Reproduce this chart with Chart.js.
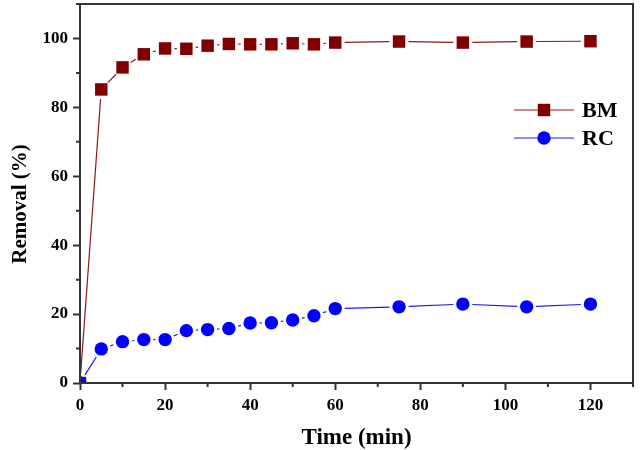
<!DOCTYPE html>
<html>
<head>
<meta charset="utf-8">
<script src="https://cdn.jsdelivr.net/npm/chart.js@4.4.1/dist/chart.umd.min.js"></script>
<style>
html,body{margin:0;padding:0;background:#fff;}
#wrap{width:642px;height:450px;position:relative;}
</style>
</head>
<body>
<div id="wrap"><canvas id="c" width="642" height="450"></canvas></div>
<script>
// ---- data ----
const TIME = [0, 5, 10, 15, 20, 25, 30, 35, 40, 45, 50, 55, 60, 75, 90, 105, 120];
const BM   = [0, 85.2, 91.6, 95.4, 97.1, 97.0, 97.9, 98.4, 98.3, 98.3, 98.6, 98.3, 98.8, 99.1, 98.8, 99.1, 99.2];
const RC   = [0, 9.9, 12.0, 12.6, 12.6, 15.2, 15.5, 15.8, 17.4, 17.5, 18.3, 19.5, 21.6, 22.1, 22.9, 22.1, 22.9];
const SERIES = ['BM', 'RC'];
const X_TICKS = [0, 20, 40, 60, 80, 100, 120];
const Y_TICKS = [0, 20, 40, 60, 80, 100];
const X_MINOR = [10, 30, 50, 70, 90, 110, 130];
const Y_MINOR = [10, 30, 50, 70, 90, 110];
const X_TITLE = 'Time (min)';
const Y_TITLE = 'Removal (%)';

const FONT = "'Liberation Serif', 'Times New Roman', serif";
const AXIS_COLOR = '#333333';
const GAP = 9.5; // line stops short of each symbol (Origin-style gap)

const gapSegment = {
  borderDash: ctx => {
    const L = Math.hypot(ctx.p1.x - ctx.p0.x, ctx.p1.y - ctx.p0.y);
    return L > 2 * GAP ? [L - 2 * GAP, 2 * GAP] : [0, L + 1];
  },
  borderDashOffset: () => -GAP
};

const decor = {
  id: 'decor',
  afterDatasetsDraw(chart) {
    const {ctx, chartArea: a, scales: {x, y}} = chart;
    ctx.save();
    ctx.strokeStyle = AXIS_COLOR;
    ctx.lineWidth = 2;
    ctx.strokeRect(a.left, a.top, a.right - a.left, a.bottom - a.top);
    ctx.beginPath();
    X_MINOR.forEach(v => { const px = x.getPixelForValue(v); ctx.moveTo(px, a.bottom); ctx.lineTo(px, a.bottom + 4); });
    Y_MINOR.forEach(v => { const py = y.getPixelForValue(v); ctx.moveTo(a.left, py); ctx.lineTo(a.left - 4, py); });
    ctx.stroke();

    // legend (line - symbol - line, then label)
    const lx0 = 514, lx1 = 574, mx = 544, tx = 582;
    const rows = [110, 138];
    chart.data.datasets.slice().sort((p, q) => SERIES.indexOf(p.label) - SERIES.indexOf(q.label)).forEach((ds, i) => {
      const yy = rows[i];
      ctx.strokeStyle = ds.borderColor;
      ctx.lineWidth = ds.borderWidth;
      ctx.setLineDash([]);
      ctx.beginPath(); ctx.moveTo(lx0, yy); ctx.lineTo(lx1, yy); ctx.stroke();
      ctx.fillStyle = ds.pointBackgroundColor;
      if (ds.pointStyle === 'rect') {
        const h = ds.pointRadius * Math.SQRT1_2;
        ctx.fillRect(mx - h, yy - h, 2 * h, 2 * h);
      } else {
        ctx.beginPath(); ctx.arc(mx, yy, ds.pointRadius, 0, Math.PI * 2); ctx.fill();
      }
      ctx.fillStyle = '#000';
      ctx.font = "bold 22px " + FONT;
      ctx.textAlign = 'left';
      ctx.textBaseline = 'middle';
      ctx.fillText(ds.label, tx, yy + 1);
    });
    ctx.restore();
  }
};

const zeroPad = s => { s.paddingLeft = 0; s.paddingRight = 0; s.paddingTop = 0; s.paddingBottom = 0; };

new Chart(document.getElementById('c'), {
  type: 'line',
  data: {
    datasets: [
      {
        label: SERIES[0],
        data: TIME.map((t, i) => ({x: t, y: BM[i]})),
        borderColor: '#8b1a1a',
        borderWidth: 1.2,
        pointStyle: 'rect',
        pointRadius: 8.8,
        pointBackgroundColor: '#800000',
        pointBorderWidth: 0,
        tension: 0,
        fill: false,
        clip: 0,
        order: 1,
        segment: gapSegment
      },
      {
        label: SERIES[1],
        data: TIME.map((t, i) => ({x: t, y: RC[i]})),
        borderColor: '#1a1aff',
        borderWidth: 1.2,
        pointStyle: 'circle',
        pointRadius: 6.7,
        pointBackgroundColor: '#0000ff',
        pointBorderWidth: 0,
        tension: 0,
        fill: false,
        clip: 0,
        order: 0,
        segment: gapSegment
      }
    ]
  },
  options: {
    responsive: false,
    devicePixelRatio: 1,
    animation: false,
    events: [],
    layout: {autoPadding: false, padding: {top: 4, right: 9, left: 0, bottom: 0}},
    plugins: {legend: {display: false}, tooltip: {enabled: false}},
    scales: {
      x: {
        type: 'linear', min: 0, max: 130,
        afterBuildTicks: s => { s.ticks = X_TICKS.map(v => ({value: v})); },
        afterFit: s => { s.height = 67; zeroPad(s); },
        border: {display: false},
        grid: {drawOnChartArea: false, drawTicks: true, tickLength: 7, tickWidth: 2, tickColor: AXIS_COLOR},
        ticks: {color: '#000', font: {family: FONT, size: 17, weight: 'bold'}, padding: 5, maxRotation: 0, autoSkip: false},
        title: {display: true, text: X_TITLE, color: '#000', font: {family: FONT, size: 23, weight: 'bold', lineHeight: 1}, padding: {top: 0, bottom: 0}}
      },
      y: {
        type: 'linear', min: 0, max: 110,
        afterBuildTicks: s => { s.ticks = Y_TICKS.map(v => ({value: v})); },
        afterFit: s => { s.width = 80; zeroPad(s); },
        border: {display: false},
        grid: {drawOnChartArea: false, drawTicks: true, tickLength: 7, tickWidth: 2, tickColor: AXIS_COLOR},
        ticks: {color: '#000', font: {family: FONT, size: 17, weight: 'bold'}, padding: 5, autoSkip: false},
        title: {display: true, text: Y_TITLE + '    ', color: '#000', font: {family: FONT, size: 21, weight: 'bold'}, padding: {top: 8, bottom: 0}}
      }
    }
  },
  plugins: [decor]
});
</script>
</body>
</html>
